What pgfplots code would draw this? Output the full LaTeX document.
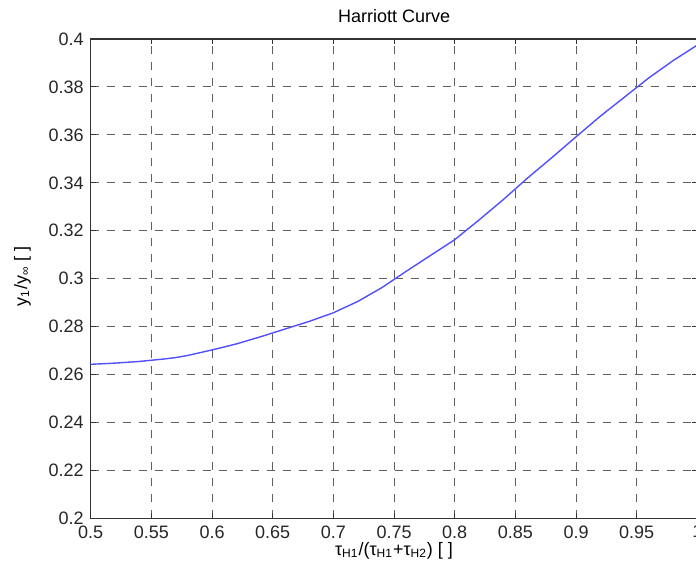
\documentclass[border=0pt]{standalone}
\usepackage{fontspec}
\setmainfont{Liberation Sans}
\usepackage{pgfplots}
\pgfplotsset{compat=1.18}
\definecolor{curveblue}{RGB}{80,80,255}
\definecolor{gridgray}{RGB}{95,95,95}
\begin{document}
\begin{tikzpicture}
\begin{axis}[
  scale only axis,
  width=303.3pt, height=239.7pt,
  xmin=0.5, xmax=1, ymin=0.2, ymax=0.4,
  xtick={0.5,0.55,0.6,0.65,0.7,0.75,0.8,0.85,0.9,0.95,1},
  ytick={0.2,0.22,0.24,0.26,0.28,0.3,0.32,0.34,0.36,0.38,0.4},
  /pgf/number format/.cd, fixed, precision=2, assume math mode=true,
  /pgfplots/.cd,
  ticklabel style={font=\fontsize{9}{10}\selectfont, text=black!85},
  axis line style={black!80, line width=0.6pt},
  major tick length=2.5pt,
  tick style={black!80, line width=0.5pt},
  grid=major,
  major grid style={gridgray, dash pattern=on 4pt off 4pt, line width=0.5pt},
]
\addplot[curveblue, line width=0.7pt] coordinates {
  (0.50,0.2643) (0.52,0.2648) (0.54,0.2655) (0.56,0.2665) (0.57,0.2671)
  (0.58,0.2680) (0.60,0.2703) (0.62,0.2728) (0.64,0.2758) (0.66,0.2790)
  (0.68,0.2822) (0.70,0.2858) (0.72,0.2905) (0.74,0.2963) (0.76,0.3031)
  (0.78,0.3097) (0.80,0.3163) (0.82,0.3245) (0.84,0.3330) (0.86,0.3420)
  (0.88,0.3505) (0.90,0.3592) (0.92,0.3678) (0.94,0.3758) (0.96,0.3838)
  (0.98,0.3910) (1.00,0.3975)
};
\end{axis}
% title and axis labels
\node[font=\fontsize{9}{10}\selectfont, anchor=base] at (151.65pt,247.7pt) {Harriott Curve};
\node[font=\fontsize{9}{10}\selectfont, anchor=base] at (151.65pt,-18.4pt)
  {τ\textsubscript{H1}/(τ\textsubscript{H1}+τ\textsubscript{H2}) [ ]};
\node[font=\fontsize{9}{10}\selectfont, anchor=base, rotate=90] at (-31.8pt,121pt)
  {y\textsubscript{1}/y\textsubscript{∞} [ ]};
\pgfresetboundingbox
\path (-45.35pt,-29.35pt) rectangle (302.6pt,259.2pt);
\end{tikzpicture}
\end{document}
